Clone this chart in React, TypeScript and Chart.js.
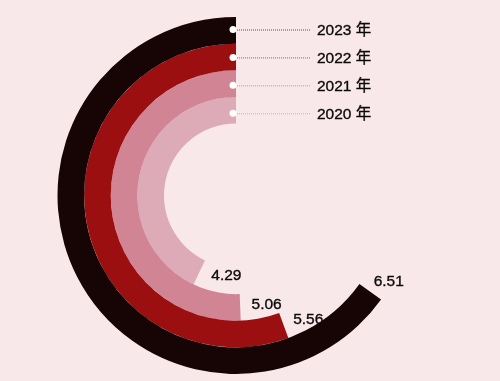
import React, { useEffect, useRef } from "react";
import { Chart, registerables } from "chart.js";

Chart.register(...registerables);

const years = ["2023 年", "2022 年", "2021 年", "2020 年"];
const values = [6.51, 5.56, 5.06, 4.29];
const scaleMax = 10;
const ringColors = ["#170405", "#9b0f11", "#d18594", "#ddaab7"];
const leaderColors = ["#5e5253", "#b5505d", "#dc8a9b", "#e3a5b4"];
const BG = "#f9e8e9";

function boldText(ctx: CanvasRenderingContext2D, s: string, px: number, py: number) {
  ctx.fillText(s, px, py);
  ctx.lineWidth = 0.35;
  ctx.strokeStyle = ctx.fillStyle as string;
  ctx.strokeText(s, px, py);
}

const ringLabels = {
  id: "ringLabels",
  afterDatasetsDraw(chart: any) {
    const ctx = chart.ctx;
    ctx.save();
    chart.data.datasets.forEach((_ds: any, i: number) => {
      const meta = chart.getDatasetMeta(i);
      const arc = meta.data[1];
      const { x, y, startAngle, endAngle, innerRadius, outerRadius } = arc.getProps(
        ["x", "y", "startAngle", "endAngle", "innerRadius", "outerRadius"],
        true
      );
      const mid = (innerRadius + outerRadius) / 2;
      // value label just past the end edge of the sweep
      const a = startAngle;
      const rr = mid - 4;
      const tx = Math.sin(a);
      const ty = -Math.cos(a);
      const px = x + rr * Math.cos(a) + tx * 11.5;
      const py = y + rr * Math.sin(a) + ty * 11.5;
      ctx.font = '15.5px "Liberation Sans", Arial, "Noto Sans CJK SC", sans-serif';
      ctx.fillStyle = "#0a0a0a";
      ctx.textAlign = "left";
      ctx.textBaseline = "middle";
      boldText(ctx, values[i].toFixed(2), px, py + 2);

      // year marker
      const dx = x + mid * Math.cos(endAngle) - 3;
      const dy = y - outerRadius + 12.5 + i * 1.3;
      ctx.beginPath();
      ctx.setLineDash([1, 1]);
      ctx.strokeStyle = leaderColors[i];
      ctx.lineWidth = 1;
      ctx.moveTo(dx, dy + 0.5);
      ctx.lineTo(310, dy + 0.5);
      ctx.stroke();
      ctx.setLineDash([]);
      ctx.beginPath();
      ctx.fillStyle = "#ffffff";
      ctx.arc(dx, dy, 3.5, 0, Math.PI * 2);
      ctx.fill();
      ctx.fillStyle = "#0a0a0a";
      ctx.textAlign = "left";
      boldText(ctx, years[i], 317, dy + 1);
    });
    ctx.restore();
  },
};

export default function App() {
  const ref = useRef<HTMLCanvasElement | null>(null);
  useEffect(() => {
    if (!ref.current) return;
    const chart = new Chart(ref.current, {
      type: "doughnut",
      data: {
        labels: ["rest", "value"],
        datasets: values.map((v, i) => ({
          label: years[i],
          data: [scaleMax - v, v],
          backgroundColor: ["rgba(0,0,0,0)", ringColors[i]],
          borderWidth: 0,
          hoverBorderWidth: 0,
          hoverOffset: 0,
          offset: 0,
        })),
      },
      options: {
        animation: false,
        responsive: true,
        maintainAspectRatio: false,
        events: [],
        cutout: 72,
        rotation: 0,
        layout: { padding: { top: 17, bottom: 7, left: 57.5, right: 85.5 } },
        plugins: {
          legend: { display: false },
          tooltip: { enabled: false },
        },
      },
      plugins: [ringLabels],
    });
    return () => chart.destroy();
  }, []);
  return (
    <div
      style={{
        position: "fixed",
        left: 0,
        top: 0,
        width: 500,
        height: 381,
        background: BG,
      }}
    >
      <canvas ref={ref} />
    </div>
  );
}
